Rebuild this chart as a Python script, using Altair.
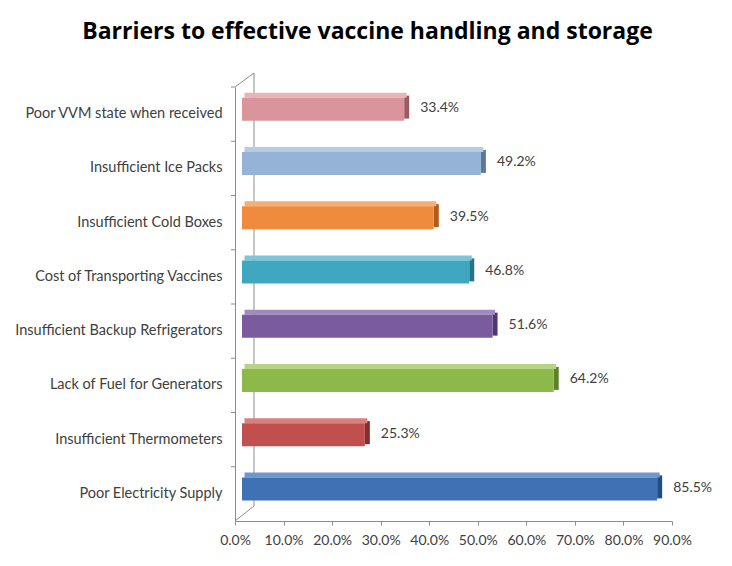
import altair as alt
import pandas as pd

categories = [
    "Poor VVM state when received",
    "Insufficient Ice Packs",
    "Insufficient Cold Boxes",
    "Cost of Transporting Vaccines",
    "Insufficient Backup Refrigerators",
    "Lack of Fuel for Generators",
    "Insufficient Thermometers",
    "Poor Electricity Supply",
]
values = [33.4, 49.2, 39.5, 46.8, 51.6, 64.2, 25.3, 85.5]
front_colors = ["#D9959B", "#95B3D7", "#F08A3C", "#3FA7BF", "#7A5C9E", "#8DB84A", "#C0504D", "#3F72B4"]
side_colors = ["#9E5A61", "#5A779C", "#B25A1C", "#24758A", "#4E3772", "#5E8127", "#862C2A", "#234C80"]
top_colors = ["#E8B4B8", "#B6CBE6", "#F7AE73", "#7CC6D8", "#A08BC0", "#B6D486", "#D8807E", "#6F97CC"]
x_ticks = [0, 10, 20, 30, 40, 50, 60, 70, 80, 90]

df = pd.DataFrame({
    "category": categories,
    "value": values,
    "zero": [0] * len(values),
    "front": front_colors,
    "side": side_colors,
    "top": top_colors,
})

W, H = 437, 434
BAND = H / len(categories)
AXIS_GRAY = "#8C8C8C"
TEXT_GRAY = "#404040"

y_enc = alt.Y("category:N", sort=categories,
              scale=alt.Scale(paddingInner=0, paddingOuter=0),
              axis=alt.Axis(title=None, ticks=False, domain=True, domainColor=AXIS_GRAY,
                            labelFont="Lato", labelFontSize=14.5, labelColor=TEXT_GRAY,
                            labelPadding=13, labelLimit=280))
x_scale = alt.Scale(domain=[0, 90], nice=False)

base = alt.Chart(df)

side = base.mark_bar(height=23, yOffset=-7, xOffset=7, x2Offset=12).encode(
    x=alt.X("value:Q", scale=x_scale,
            axis=alt.Axis(title=None, values=x_ticks, labelExpr="format(datum.value, '.1f') + '%'",
                          grid=False, domainColor=AXIS_GRAY, tickColor=AXIS_GRAY, tickSize=4,
                          labelFlush=False, labelOverlap=False,
                          labelFont="Lato", labelFontSize=14, labelColor=TEXT_GRAY, labelPadding=8)),
    x2="value:Q",
    y=y_enc,
    color=alt.Color("side:N", scale=None),
)
top = base.mark_bar(height=5, yOffset=-19, xOffset=9.5, x2Offset=9.5).encode(
    x=alt.X("zero:Q", scale=x_scale),
    x2="value:Q",
    y=y_enc,
    color=alt.Color("top:N", scale=None),
)
front = base.mark_bar(height=23, yOffset=-5, xOffset=7, x2Offset=7).encode(
    x=alt.X("zero:Q", scale=x_scale),
    x2="value:Q",
    y=y_enc,
    color=alt.Color("front:N", scale=None),
)
labels = base.transform_calculate(
    label="format(datum.value, '.1f') + '%'"
).mark_text(align="left", baseline="middle", dx=23, dy=-6,
            font="Lato", fontSize=14, color=TEXT_GRAY).encode(
    x=alt.X("value:Q", scale=x_scale),
    y=y_enc,
    text="label:N",
)

ticks = base.mark_rule(color=AXIS_GRAY, yOffset=-BAND / 2).encode(
    y=y_enc,
    x=alt.value(-4),
    x2=alt.value(0),
)
deco = alt.Chart(pd.DataFrame({"a": [0]}))
back_wall = deco.mark_rule(color=AXIS_GRAY).encode(
    x=alt.value(19), y=alt.value(-14), y2=alt.value(H - 15)
)
diag_top = deco.mark_rule(color=AXIS_GRAY).encode(
    x=alt.value(0), y=alt.value(0), x2=alt.value(19), y2=alt.value(-14)
)
diag_bot = deco.mark_rule(color=AXIS_GRAY).encode(
    x=alt.value(0), y=alt.value(H), x2=alt.value(19), y2=alt.value(H - 15)
)

chart = alt.layer(back_wall, diag_top, diag_bot, ticks, side, top, front, labels).properties(
    width=W, height=H,
    title=alt.TitleParams(
        "Barriers to effective vaccine handling and storage",
        font="Open Sans", fontSize=23, fontWeight="bold", color="#000000",
        anchor="middle", dx=-86, offset=29,
    ),
    autosize=alt.AutoSizeParams(type="none"),
    padding={"left": 227, "top": 79, "right": 44, "bottom": 29},
).configure_view(stroke=None)

chart.save("out.html", embed_options={"renderer": "svg", "actions": False})
